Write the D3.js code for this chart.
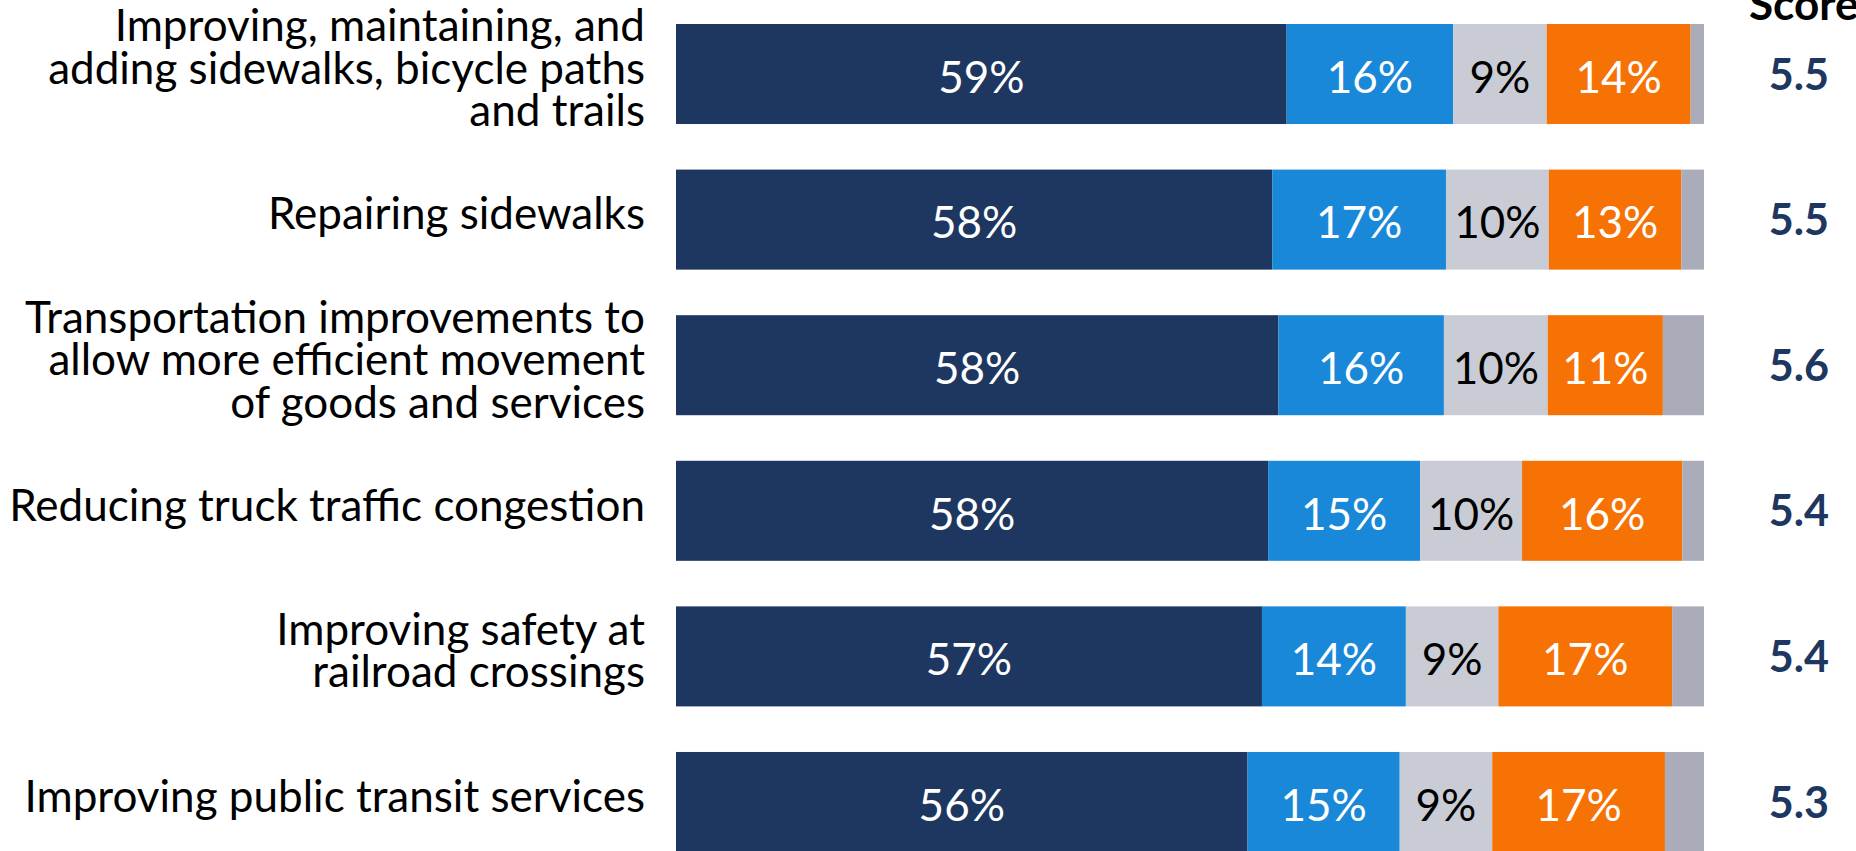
<!DOCTYPE html>
<html><head><meta charset="utf-8">
<script src="https://cdn.jsdelivr.net/npm/d3@7"></script>
<style>html,body{margin:0;padding:0;background:#fff;overflow:hidden}</style>
</head><body>
<svg id="chart" width="1856" height="851"></svg>
<script>
const categories = [
  ["Improving, maintaining, and", "adding sidewalks, bicycle paths", "and trails"],
  ["Repairing sidewalks"],
  ["Transportation improvements to", "allow more efficient movement", "of goods and services"],
  ["Reducing truck traffic congestion"],
  ["Improving safety at", "railroad crossings"],
  ["Improving public transit services"]
];
const seriesNames = ["s1", "s2", "s3", "s4", "s5"];
const s1 = [59.4, 58.0, 58.6, 57.6, 57.0, 55.6];
const s2 = [16.2, 16.9, 16.1, 14.8, 14.0, 14.8];
const s3 = [9.1, 10.0, 10.1, 9.9, 9.0, 9.0];
const s4 = [14.0, 12.9, 11.2, 15.6, 16.9, 16.8];
const s5 = [1.3, 2.2, 4.0, 2.1, 3.1, 3.8];
const labels1 = ["59%", "58%", "58%", "58%", "57%", "56%"];
const labels2 = ["16%", "17%", "16%", "15%", "14%", "15%"];
const labels3 = ["9%", "10%", "10%", "10%", "9%", "9%"];
const labels4 = ["14%", "13%", "11%", "16%", "17%", "17%"];
const scores = ["5.5", "5.5", "5.6", "5.4", "5.4", "5.3"];
const scoreTitle = "Score";

const colors = ["#1E3761", "#1A88D8", "#C9CCD4", "#F77205", "#AAACB9"];
const textColors = ["#ffffff", "#ffffff", "#000000", "#ffffff", null];
const FONT = "Lato, 'Open Sans', sans-serif";

const svg = d3.select("#chart");
const keys = categories.map((c, i) => i);
const x = d3.scaleLinear().domain([0, 100]).range([676, 1704]);
const y = d3.scaleBand().domain(keys).range([24, 852]).paddingInner(0.313).paddingOuter(0);

const values = [s1, s2, s3, s4, s5];
const labelSets = [labels1, labels2, labels3, labels4, null];
const rows = keys.map(i => {
  const r = {i};
  seriesNames.forEach((s, k) => r[s] = values[k][i]);
  return r;
});
const stacked = d3.stack().keys(seriesNames)(rows);

// fit font size: measure widest one-line label
const probe = svg.append("text").attr("font-family", FONT).attr("font-size", 48).text("Reducing truck traffic congestion");
const w = probe.node().getComputedTextLength();
probe.remove();
const fs = 48 * 636 / w;

const g = svg.append("g");
stacked.forEach((layer, k) => {
  g.selectAll(null).data(layer).enter().append("rect")
    .attr("x", d => x(d[0]))
    .attr("y", d => y(d.data.i))
    .attr("width", d => x(d[1]) - x(d[0]))
    .attr("height", y.bandwidth())
    .attr("fill", colors[k]);
  if (labelSets[k]) {
    g.selectAll(null).data(layer).enter().append("text")
      .attr("x", d => (x(d[0]) + x(d[1])) / 2)
      .attr("y", d => y(d.data.i) + y.bandwidth() / 2 + 3)
      .attr("dy", "0.36em")
      .attr("text-anchor", "middle")
      .attr("font-family", FONT)
      .attr("font-size", fs)
      .attr("fill", textColors[k])
      .text(d => labelSets[k][d.data.i]);
  }
});

// category labels
const lh = 42.5;
const lab = svg.append("g");
categories.forEach((lines, i) => {
  const cy = y(i) + y.bandwidth() / 2 - 6;
  const t = lab.append("text")
    .attr("text-anchor", "end")
    .attr("font-family", FONT)
    .attr("font-size", fs)
    .attr("fill", "#000");
  lines.forEach((ln, j) => {
    t.append("tspan").attr("x", 645)
      .attr("y", cy + (j - (lines.length - 1) / 2) * lh)
      .attr("dy", "0.36em")
      .text(ln);
  });
});

// scores
svg.append("g").selectAll("text").data(keys).enter().append("text")
  .attr("x", 1799)
  .attr("y", i => y(i) + y.bandwidth() / 2)
  .attr("dy", "0.36em")
  .attr("text-anchor", "middle")
  .attr("font-family", FONT)
  .attr("font-weight", "bold")
  .attr("font-size", fs * 0.98)
  .attr("fill", "#1E3761")
  .text(i => scores[i]);

svg.append("text")
  .attr("x", 1749)
  .attr("y", 20)
  .attr("font-family", FONT)
  .attr("font-weight", "bold")
  .attr("font-size", fs)
  .attr("fill", "#000")
  .text(scoreTitle);
</script>
</body></html>
